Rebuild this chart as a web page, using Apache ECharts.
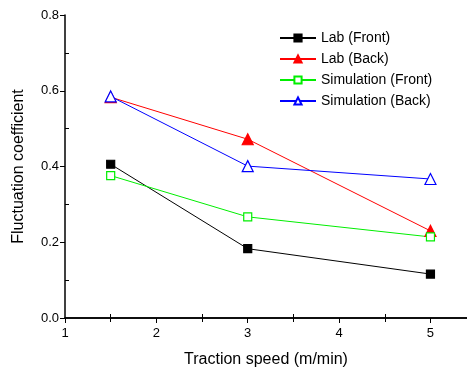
<!DOCTYPE html>
<html>
<head>
<meta charset="utf-8">
<script src="https://cdn.jsdelivr.net/npm/echarts@6/dist/echarts.min.js"></script>
<style>
html, body { margin: 0; padding: 0; background: #fff; }
#chart { width: 467px; height: 370px; }
</style>
</head>
<body>
<div id="chart"></div>
<script>
// traction speed (m/min)
var speeds = [1.5, 3, 5];
var labFront = [0.406, 0.183, 0.116];
var labBack = [0.583, 0.472, 0.230];
var simFront = [0.376, 0.267, 0.214];
var simBack = [0.585, 0.401, 0.367];

var FONT = '"Liberation Sans", Arial, sans-serif';
var XMAX = 5.4;

function pairs(vals) {
    var out = [];
    for (var i = 0; i < speeds.length; i++) {
        out.push([speeds[i], vals[i]]);
    }
    return out;
}

function mkSeries(name, vals, color, symbol, size, filled) {
    return {
        name: name,
        type: 'line',
        xAxisIndex: 0,
        yAxisIndex: 0,
        data: pairs(vals),
        symbol: symbol,
        symbolSize: size,
        showAllSymbol: true,
        lineStyle: { color: color, width: 1 },
        itemStyle: {
            color: filled ? color : '#fff',
            borderColor: color,
            borderWidth: 1.2
        },
        emphasis: { disabled: true }
    };
}

// plain axis used only for the inner minor ticks
function innerTicks(pos, min, max, interval) {
    return {
        type: 'value',
        position: pos,
        min: min,
        max: max,
        interval: interval,
        axisLine: { show: false },
        axisTick: { show: false, inside: true },
        minorTick: { show: true, splitNumber: 2, length: 4, lineStyle: { color: '#000' } },
        axisLabel: { show: false },
        splitLine: { show: false }
    };
}

var chart = echarts.init(document.getElementById('chart'));

var topAxis = innerTicks('top', 1, XMAX, 1);
topAxis.axisLine = { show: true, lineStyle: { color: '#000', width: 1.5 } };
topAxis.axisTick = { show: true, inside: true, length: 4, lineStyle: { color: '#000' } };

var option = {
    animation: false,
    textStyle: { fontFamily: FONT },
    grid: { left: 65, top: 15, right: 0, bottom: 52, containLabel: false, outerBoundsMode: 'none' },
    legend: {
        orient: 'vertical',
        left: 279,
        top: 31,
        padding: 0,
        itemWidth: 36,
        itemHeight: 9,
        itemGap: 7,
        textStyle: { fontFamily: FONT, fontSize: 14, color: '#000' },
        data: ['Lab (Front)', 'Lab (Back)', 'Simulation (Front)', 'Simulation (Back)']
    },
    xAxis: [{
        type: 'value',
        min: 1,
        max: XMAX,
        interval: 1,
        name: 'Traction speed (m/min)',
        nameLocation: 'middle',
        nameGap: 34,
        nameTextStyle: { fontFamily: FONT, fontSize: 16, color: '#000' },
        axisLine: { show: true, onZero: false, lineStyle: { color: '#000', width: 1.5 } },
        axisTick: { show: true, inside: false, length: 5, lineStyle: { color: '#000' } },
        axisLabel: {
            fontFamily: FONT, fontSize: 13, color: '#000', margin: 9,
            formatter: function (v) { return v % 1 === 0 ? String(v) : ''; }
        },
        splitLine: { show: false }
    }, innerTicks('bottom', 1, XMAX, 1), topAxis],
    yAxis: [{
        type: 'value',
        min: 0,
        max: 0.8,
        interval: 0.2,
        name: 'Fluctuation coefficient',
        nameLocation: 'middle',
        nameGap: 38,
        nameTextStyle: { fontFamily: FONT, fontSize: 16, color: '#000' },
        axisLine: { show: true, lineStyle: { color: '#000', width: 1.5 } },
        axisTick: { show: true, inside: false, length: 5, lineStyle: { color: '#000' } },
        axisLabel: {
            fontFamily: FONT, fontSize: 13, color: '#000', margin: 6,
            formatter: function (v) { return v.toFixed(1); }
        },
        splitLine: { show: false }
    }, innerTicks('left', 0, 0.8, 0.2)],
    series: [
        mkSeries('Lab (Front)', labFront, '#000000', 'rect', 8, true),
        mkSeries('Lab (Back)', labBack, '#ff0000', 'triangle', 11, true),
        mkSeries('Simulation (Front)', simFront, '#00ee00', 'rect', 8, false),
        mkSeries('Simulation (Back)', simBack, '#0000ff', 'triangle', 11, false)
    ]
};

chart.setOption(option);
</script>
</body>
</html>
